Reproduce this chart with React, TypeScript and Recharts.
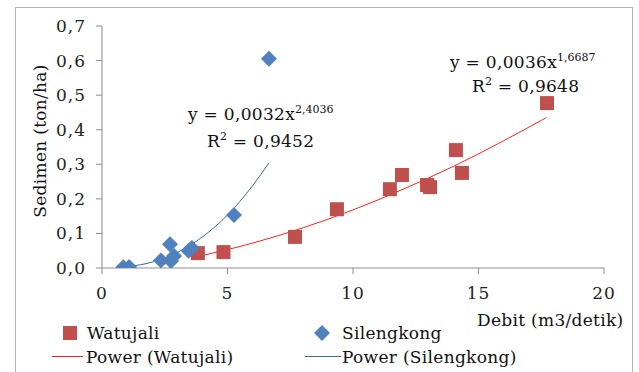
import { ComposedChart, Scatter, Line, XAxis, YAxis } from "recharts";

const watujaliX = [3.82, 4.84, 7.69, 9.36, 11.47, 11.95, 12.95, 13.07, 14.1, 14.34, 17.73];
const watujaliY = [0.043, 0.046, 0.09, 0.17, 0.228, 0.269, 0.24, 0.234, 0.341, 0.275, 0.477];

const silengkongX = [0.85, 1.08, 2.35, 2.71, 2.75, 2.87, 3.45, 3.58, 5.26, 6.65];
const silengkongY = [0.002, 0.003, 0.022, 0.069, 0.02, 0.035, 0.05, 0.058, 0.153, 0.605];

// trend lines, values
const powerWatujaliX = [3.8, 6, 8, 10, 12, 14, 16, 17.7];
const powerWatujaliY = [0.033, 0.072, 0.116, 0.168, 0.228, 0.294, 0.368, 0.435];
const powerSilengkongX = [0.85, 1.5, 2, 2.5, 3, 3.5, 4, 4.5, 5, 5.5, 6, 6.65];
const powerSilengkongY = [0.002, 0.009, 0.017, 0.029, 0.045, 0.065, 0.09, 0.119, 0.153, 0.193, 0.238, 0.304];

const xTicks = [0, 5, 10, 15, 20];
const yTicks = [0, 0.1, 0.2, 0.3, 0.4, 0.5, 0.6, 0.7];

const zip = (xs: number[], ys: number[]) => xs.map((x, i) => ({ x, y: ys[i] }));

const watujali = zip(watujaliX, watujaliY);
const silengkong = zip(silengkongX, silengkongY);
const powerWatujali = zip(powerWatujaliX, powerWatujaliY);
const powerSilengkong = zip(powerSilengkongX, powerSilengkongY);

const FONT = "'DejaVu Serif', serif";
const RED = "#C0504D";
const BLUE = "#4F81BD";
const AXIS = "#8c8c8c";

const Square = (p: any) => <rect x={p.cx - 7} y={p.cy - 7} width={14} height={14} fill={RED} />;
const Diamond = (p: any) => (
  <polygon
    points={`${p.cx},${p.cy - 8} ${p.cx + 8},${p.cy} ${p.cx},${p.cy + 8} ${p.cx - 8},${p.cy}`}
    fill={BLUE}
  />
);

const tickStyle = { fill: "#222", fontSize: 17, fontFamily: FONT, letterSpacing: 1 };
const txt: React.CSSProperties = {
  position: "absolute",
  fontFamily: FONT,
  fontSize: 17,
  letterSpacing: 0.3,
  color: "#111",
  whiteSpace: "nowrap",
  lineHeight: "20px",
};
const sup: React.CSSProperties = { fontSize: 11, letterSpacing: 0 };

export default function App() {
  return (
    <div style={{ position: "absolute", left: 0, top: 0, width: 639, height: 372, background: "#fff", overflow: "hidden" }}>
      <div style={{ position: "absolute", left: 15, top: 7, width: 616, height: 400, border: "1px solid #b5b5b5" }} />
      <div style={{ position: "absolute", left: 0, top: 0 }}>
        <ComposedChart width={639} height={372} margin={{ top: 26, right: 35, left: 0, bottom: 74 }}>
          <XAxis
            type="number"
            dataKey="x"
            domain={[0, 20]}
            ticks={xTicks}
            tick={tickStyle}
            tickSize={6}
            tickMargin={13}
            height={30}
            stroke={AXIS}
            allowDataOverflow
          />
          <YAxis
            type="number"
            dataKey="y"
            domain={[0, 0.7]}
            ticks={yTicks}
            tick={tickStyle}
            tickFormatter={(v: number) => v.toFixed(1).replace(".", ",")}
            tickSize={6}
            tickMargin={10}
            width={102}
            stroke={AXIS}
            allowDataOverflow
          />
          <Line data={powerWatujali} dataKey="y" type="monotone" stroke="#ff2020" strokeWidth={1} dot={false} isAnimationActive={false} />
          <Line data={powerSilengkong} dataKey="y" type="monotone" stroke="#3a6aa8" strokeWidth={1} dot={false} isAnimationActive={false} />
          <Scatter data={watujali} dataKey="y" shape={Square} isAnimationActive={false} />
          <Scatter data={silengkong} dataKey="y" shape={Diamond} isAnimationActive={false} />
        </ComposedChart>
      </div>

      <div style={{ ...txt, left: 40, top: 141, transform: "translate(-50%, -50%) rotate(-90deg)" }}>Sedimen (ton/ha)</div>
      <div style={{ ...txt, left: 477, top: 310 }}>Debit (m3/detik)</div>

      <div style={{ ...txt, left: 188, top: 100 }}>
        y = 0,0032x<sup style={sup}>2,4036</sup>
      </div>
      <div style={{ ...txt, left: 207, top: 127 }}>
        R<sup style={sup}>2</sup> = 0,9452
      </div>
      <div style={{ ...txt, left: 450, top: 48 }}>
        y = 0,0036x<sup style={sup}>1,6687</sup>
      </div>
      <div style={{ ...txt, left: 472, top: 72 }}>
        R<sup style={sup}>2</sup> = 0,9648
      </div>

      <div style={{ position: "absolute", left: 63, top: 326, width: 14, height: 14, background: RED }} />
      <div style={{ ...txt, left: 87, top: 323 }}>Watujali</div>
      <div style={{ position: "absolute", left: 52, top: 356, width: 31, height: 1, background: "#ff2020" }} />
      <div style={{ ...txt, left: 86, top: 347 }}>Power (Watujali)</div>

      <svg style={{ position: "absolute", left: 314, top: 325 }} width={16} height={16}>
        <polygon points="8,0 16,8 8,16 0,8" fill={BLUE} />
      </svg>
      <div style={{ ...txt, left: 342, top: 323 }}>Silengkong</div>
      <div style={{ position: "absolute", left: 305, top: 356, width: 36, height: 1, background: "#3a6aa8" }} />
      <div style={{ ...txt, left: 342, top: 347 }}>Power (Silengkong)</div>
    </div>
  );
}
